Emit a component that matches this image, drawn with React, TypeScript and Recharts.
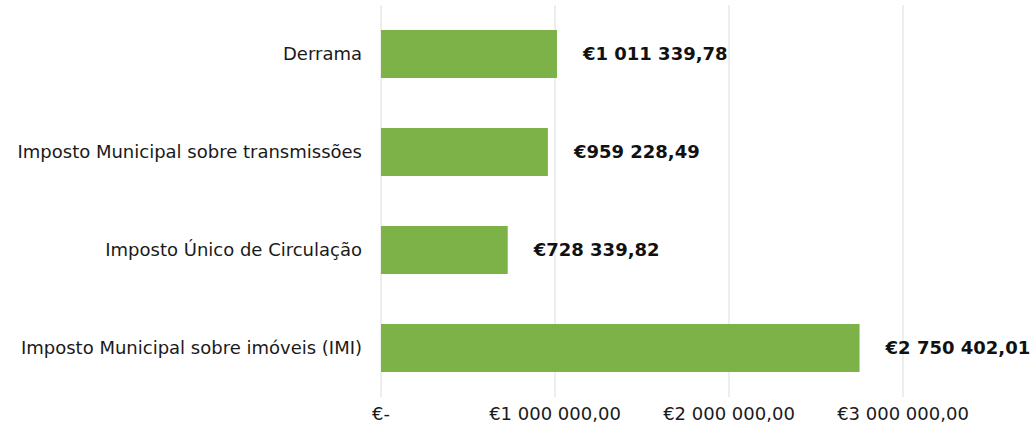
import { BarChart, Bar, XAxis, YAxis, CartesianGrid, LabelList } from "recharts"

const categories = [
  "Derrama",
  "Imposto Municipal sobre transmissões",
  "Imposto Único de Circulação",
  "Imposto Municipal sobre imóveis (IMI)",
]
const values = [1011339.78, 959228.49, 728339.82, 2750402.01]
const xTicks = [0, 1000000, 2000000, 3000000]

const data = categories.map((name, i) => ({ name, value: values[i] }))

const fmt = (v: number) => {
  if (v === 0) return "€-"
  const [int, dec] = v.toFixed(2).split(".")
  return "€" + int.replace(/\B(?=(\d{3})+(?!\d))/g, " ") + "," + dec
}

const font = "DejaVu Sans, Verdana, sans-serif"

export default function App() {
  return (
    <div style={{ width: 1034, height: 432, background: "#fff" }}>
      <style>{`body{margin:0}`}</style>
      <BarChart
        width={1034}
        height={432}
        layout="vertical"
        data={data}
        margin={{ top: 5, right: 131, left: 0, bottom: 0 }}
      >
        <CartesianGrid horizontal={false} stroke="#dcdcdc" />
        <XAxis
          type="number"
          domain={[0, 3000000]}
          ticks={xTicks}
          tickFormatter={fmt}
          axisLine={false}
          tickLine={false}
          height={35}
          tickMargin={4}
          tick={{ fill: "#1a1a1a", fontSize: 18, fontFamily: font }}
        />
        <YAxis
          type="category"
          dataKey="name"
          width={381}
          axisLine={false}
          tickLine={false}
          tickMargin={13}
          tick={{ fill: "#1a1a1a", fontSize: 18, fontFamily: font }}
        />
        <Bar dataKey="value" fill="#7db248" barSize={48} isAnimationActive={false}>
          <LabelList
            dataKey="value"
            position="right"
            offset={26}
            formatter={(v: any) => fmt(Number(v))}
            style={{ fill: "#111", fontSize: 18, fontWeight: "bold", fontFamily: font }}
          />
        </Bar>
      </BarChart>
    </div>
  )
}
